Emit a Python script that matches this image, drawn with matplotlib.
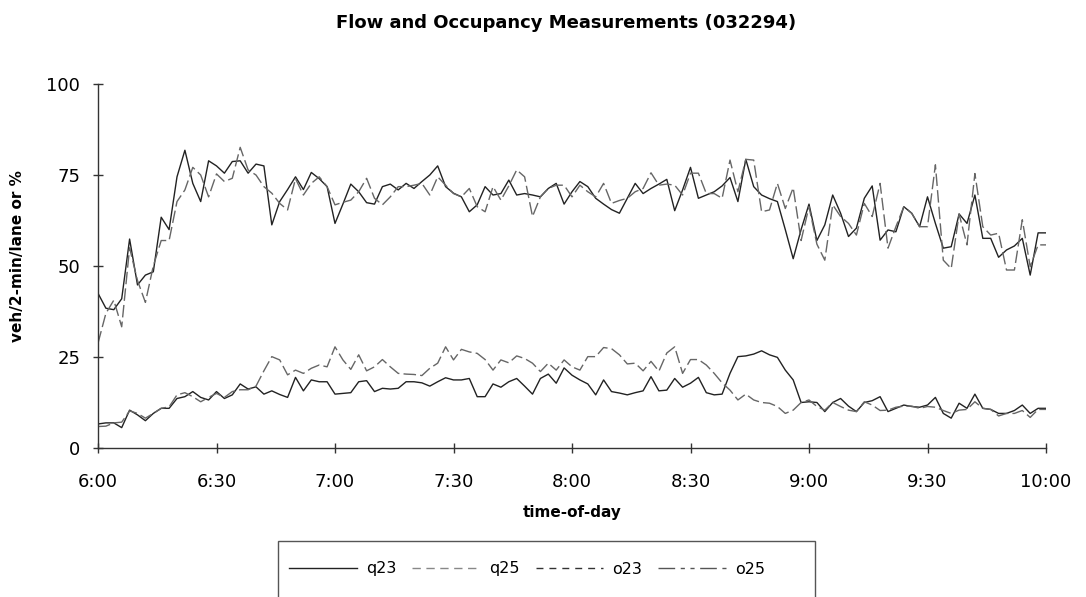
import numpy as np
import matplotlib
matplotlib.use("Agg")
import matplotlib.pyplot as plt
from matplotlib.lines import Line2D
from matplotlib.patches import Rectangle

plt.rcParams["font.family"] = ["DejaVu Sans"]

# 2-minute counts from 6:00 to 10:00 (minutes after 6:00)
minutes = np.arange(0, 242, 2)

q23 = [42.5, 38.4, 38.0, 41.0, 57.4, 44.8, 47.5, 48.4, 63.4, 60.0,
       74.5, 81.8, 72.7, 67.7, 78.9, 77.5, 75.5, 78.7, 78.9, 75.5,
       78.0, 77.5, 61.3, 67.7, 71.0, 74.5, 71.0, 75.7, 74.0, 71.8,
       61.7, 67.0, 72.5, 70.4, 67.4, 67.0, 71.8, 72.5, 70.9, 72.7,
       71.3, 73.2, 75.0, 77.5, 71.8, 70.0, 69.0, 64.9, 66.8, 71.8,
       69.5, 69.9, 73.6, 69.5, 69.9, 69.5, 69.0, 71.3, 72.7, 67.0,
       70.4, 73.2, 71.8, 68.6, 67.0, 65.5, 64.5, 68.6, 72.7, 69.9,
       71.3, 72.5, 73.8, 65.2, 70.9, 77.1, 68.6, 69.5, 70.4, 72.0,
       74.3, 67.7, 79.3, 71.8, 69.5, 68.5, 67.7, 60.0, 52.0, 60.0,
       67.0, 57.0, 61.3, 69.5, 64.5, 58.1, 60.4, 68.6, 72.0, 57.1,
       59.9, 59.4, 66.3, 64.5, 60.8, 69.0, 61.7, 54.9, 55.3, 64.3,
       61.7, 69.5, 57.6, 57.6, 52.4, 54.4, 55.5, 57.6, 47.5, 59.1,
       59.1]

q25 = [28.8, 37.0, 40.6, 33.3, 55.0, 46.0, 40.0, 50.0, 57.0, 57.0,
       67.7, 70.9, 77.1, 75.0, 69.0, 75.3, 73.2, 74.1, 82.6, 76.4,
       75.0, 71.8, 70.0, 67.2, 65.4, 74.0, 69.5, 72.7, 74.5, 71.8,
       66.8, 67.5, 68.1, 70.4, 74.1, 68.6, 66.8, 69.0, 71.8, 71.8,
       72.2, 72.7, 69.5, 74.5, 72.2, 69.9, 69.0, 71.3, 66.3, 64.9,
       71.8, 68.1, 72.0, 76.4, 74.5, 63.6, 69.0, 71.3, 72.2, 72.2,
       69.0, 72.2, 70.4, 69.0, 72.7, 67.2, 68.0, 68.6, 70.4, 71.3,
       75.6, 72.2, 72.5, 72.2, 69.5, 75.5, 75.5, 69.9, 69.9, 68.6,
       79.1, 70.4, 79.3, 79.1, 64.9, 65.4, 72.7, 65.8, 71.5, 57.0,
       66.3, 56.0, 51.6, 66.8, 63.6, 61.7, 58.5, 67.2, 63.6, 72.7,
       54.9, 60.8, 66.3, 64.5, 60.8, 60.8, 77.8, 51.6, 49.3, 64.3,
       55.8, 75.4, 60.8, 58.5, 59.0, 48.9, 48.9, 62.7, 49.8, 55.8,
       55.8]

o23 = [6.6, 6.9, 6.9, 5.6, 10.4, 9.1, 7.5, 9.5, 10.9, 10.9,
       13.6, 14.1, 15.5, 13.9, 13.2, 15.5, 13.6, 14.6, 17.6, 16.2,
       16.8, 14.8, 15.7, 14.7, 13.9, 19.4, 15.7, 18.7, 18.2, 18.2,
       14.8, 15.0, 15.2, 18.2, 18.5, 15.5, 16.4, 16.2, 16.4, 18.2,
       18.2, 17.9, 17.0, 18.2, 19.3, 18.7, 18.7, 19.1, 14.1, 14.1,
       17.6, 16.7, 18.2, 19.1, 17.0, 14.8, 19.1, 20.3, 17.8, 22.0,
       20.0, 18.7, 17.6, 14.6, 18.7, 15.5, 15.1, 14.6, 15.2, 15.7,
       19.6, 15.7, 15.9, 19.1, 16.7, 17.8, 19.4, 15.2, 14.6, 14.8,
       20.5, 25.1, 25.3, 25.8, 26.7, 25.6, 24.9, 21.4, 18.7, 12.5,
       12.7, 12.5, 10.0, 12.5, 13.6, 11.5, 10.0, 12.5, 13.0, 14.1,
       10.0, 10.9, 11.8, 11.4, 11.2, 11.8, 13.9, 9.5, 8.2, 12.3,
       10.9, 14.8, 10.9, 10.6, 9.5, 9.5, 10.3, 11.8, 9.5, 10.9,
       10.9]

o25 = [5.9, 6.0, 6.9, 7.1, 10.2, 9.5, 8.2, 9.5, 10.9, 11.3,
       14.6, 15.2, 14.1, 12.7, 13.9, 15.0, 13.9, 15.5, 16.0, 16.0,
       17.0, 21.2, 25.1, 24.2, 20.1, 21.4, 20.5, 21.9, 22.8, 22.3,
       27.8, 24.2, 21.6, 25.6, 21.2, 22.3, 24.3, 22.3, 20.5, 20.3,
       20.2, 19.9, 21.9, 23.3, 27.8, 24.2, 27.1, 26.4, 26.0, 24.3,
       21.4, 24.2, 23.4, 25.3, 24.6, 23.3, 21.0, 23.3, 21.4, 24.2,
       22.3, 21.4, 25.1, 25.1, 27.6, 27.3, 25.6, 23.1, 23.3, 21.2,
       23.8, 21.1, 26.1, 27.8, 20.5, 24.3, 24.3, 22.8, 20.5, 17.9,
       15.9, 13.2, 14.8, 13.2, 12.5, 12.3, 11.4, 9.5, 10.4, 12.5,
       13.2, 11.4, 10.4, 12.5, 11.4, 10.4, 10.0, 12.7, 11.8, 10.3,
       10.4, 11.2, 11.5, 11.5, 10.9, 11.4, 11.2, 10.3, 9.5, 10.4,
       10.6, 12.7, 10.9, 10.6, 8.8, 9.5, 9.5, 10.3, 8.4, 10.6,
       10.6]

tick_minutes = [0, 30, 60, 90, 120, 150, 180, 210, 240]
tick_labels = ["6:00", "6:30", "7:00", "7:30", "8:00", "8:30", "9:00", "9:30", "10:00"]
y_ticks = [0, 25, 50, 75, 100]

W, H = 1086, 597
fig = plt.figure(figsize=(W / 100, H / 100), dpi=100)
ax = fig.add_axes([98 / W, 1 - 448 / H, (1046 - 98) / W, (448 - 84) / H])

ax.plot(minutes, q23, color="#222222", lw=1.0, ls="-")
ax.plot(minutes, q25, color="#666666", lw=1.0, ls=(0, (9, 3)))
ax.plot(minutes, o23, color="#222222", lw=1.0, ls="-")
ax.plot(minutes, o25, color="#666666", lw=1.0, ls=(0, (9, 3)))

ax.set_xlim(0, 240)
ax.set_ylim(0, 100)
ax.set_xticks(tick_minutes)
ax.set_xticklabels(tick_labels)
ax.set_yticks(y_ticks)
for s in ("top", "right"):
    ax.spines[s].set_visible(False)
for s in ("left", "bottom"):
    ax.spines[s].set_color("#333333")
    ax.spines[s].set_linewidth(1.0)
ax.tick_params(axis="both", direction="inout", length=7.5, width=1.0,
               color="#333333", labelsize=13)
ax.tick_params(axis="x", pad=14)
ax.tick_params(axis="y", pad=9)

fig.text(566 / W, 1 - 28 / H, "Flow and Occupancy Measurements (032294)",
         ha="center", va="baseline", fontsize=13, fontweight="bold")
fig.text(18 / W, 1 - 256 / H, "veh/2-min/lane or %", rotation=90,
         ha="center", va="center", fontsize=11, fontweight="bold")
fig.text(572 / W, 1 - 512 / H, "time-of-day",
         ha="center", va="center", fontsize=11, fontweight="bold")

# legend row, box runs past the bottom edge
handles = [
    Line2D([], [], color="#222222", lw=1.0, ls="-"),
    Line2D([], [], color="#888888", lw=1.0, ls=(0, (6, 4))),
    Line2D([], [], color="#333333", lw=1.0, ls=(0, (5, 4.3))),
    Line2D([], [], color="#555555", lw=1.0, ls=(0, (12, 4, 3, 4, 3, 4))),
]
fig.legend(handles, ["q23", "q25", "o23", "o25"], loc="center left",
           bbox_to_anchor=(275 / W, 1 - 569 / H), ncol=4, frameon=False,
           fontsize=11.5, handlelength=4.25, handletextpad=0.55, columnspacing=1.0)
fig.add_artist(Rectangle((278 / W, -0.1), (815 - 278) / W, 0.1 + 1 - 541 / H,
                         transform=fig.transFigure, fill=False,
                         ec="#555555", lw=1.0))

fig.savefig("out.png", dpi=100)
